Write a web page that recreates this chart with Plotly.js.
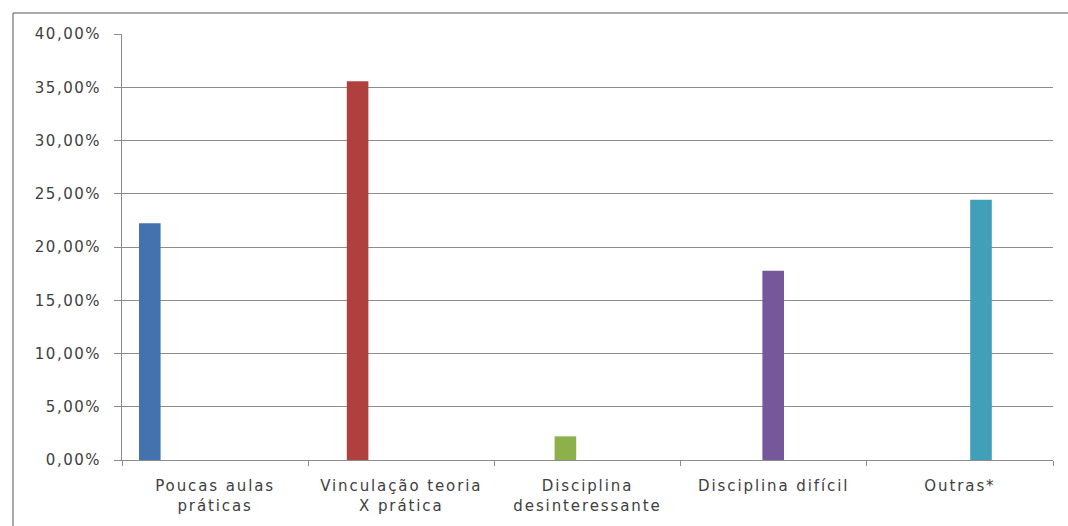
<!DOCTYPE html>
<html>
<head>
<meta charset="utf-8">
<script src="https://cdn.plot.ly/plotly-3.0.1.min.js"></script>
<style>
html,body{margin:0;padding:0;background:#fff;}
#chart{width:1068px;height:526px;}
#chart .xtick text{letter-spacing:1.9px;}
#chart .ytick text{letter-spacing:1.5px;}
</style>
</head>
<body>
<div id="chart"></div>
<script>
const categories = ["Poucas aulas práticas", "Vinculação teoria X prática", "Disciplina desinteressante", "Disciplina difícil", "Outras*"];
const tickLabels = ["Poucas aulas<br>práticas", "Vinculação teoria<br>X prática", "Disciplina<br>desinteressante", "Disciplina difícil", "Outras*"];
const values = [0.2222, 0.3556, 0.0222, 0.1778, 0.2444];
const colors = ["#4472AE", "#B0403E", "#8DB04A", "#76579A", "#3FA0B8"];

const barWidth = 0.116;
const traces = categories.map((c, i) => ({
  type: 'bar',
  x: [c],
  y: [values[i]],
  width: barWidth,
  offset: -0.4087 + barWidth * i,
  marker: {color: colors[i], line: {width: 0}},
  showlegend: false,
  hoverinfo: 'none'
}));

const layout = {
  width: 1068, height: 526,
  margin: {l: 122, r: 15, t: 34, b: 66, pad: 0},
  paper_bgcolor: '#fff', plot_bgcolor: '#fff',
  separators: ',.',
  font: {family: 'DejaVu Sans, Verdana, sans-serif', size: 15, color: '#404040'},
  xaxis: {
    type: 'category',
    tickvals: categories, ticktext: tickLabels,
    showgrid: false, showline: true, linecolor: '#8c8c8c', linewidth: 1,
    ticks: 'outside', tickson: 'boundaries', ticklen: 5, tickcolor: '#8c8c8c',
    tickfont: {size: 15, color: '#404040'},
    ticklabelstandoff: 12,
    range: [-0.5, 4.5], fixedrange: true
  },
  yaxis: {
    range: [0, 0.40], dtick: 0.05, tickformat: '.2%',
    showgrid: true, gridcolor: '#8c8c8c', gridwidth: 1,
    showline: true, linecolor: '#8c8c8c', linewidth: 1,
    ticks: 'outside', ticklen: 7, tickcolor: '#8c8c8c',
    zeroline: false,
    ticklabelstandoff: 10,
    tickfont: {size: 15, color: '#404040'}
  },
  shapes: [
    {type: 'line', xref: 'paper', yref: 'paper', x0: (13-122)/931, x1: (1080-122)/931, y0: (460-13)/426, y1: (460-13)/426, line: {color: '#8c8c8c', width: 1.5}},
    {type: 'line', xref: 'paper', yref: 'paper', x0: (13-122)/931, x1: (13-122)/931, y0: (460-13)/426, y1: (460-540)/426, line: {color: '#8c8c8c', width: 1.5}}
  ]
};

Plotly.newPlot('chart', traces, layout, {displayModeBar: false, staticPlot: true});
</script>
</body>
</html>
